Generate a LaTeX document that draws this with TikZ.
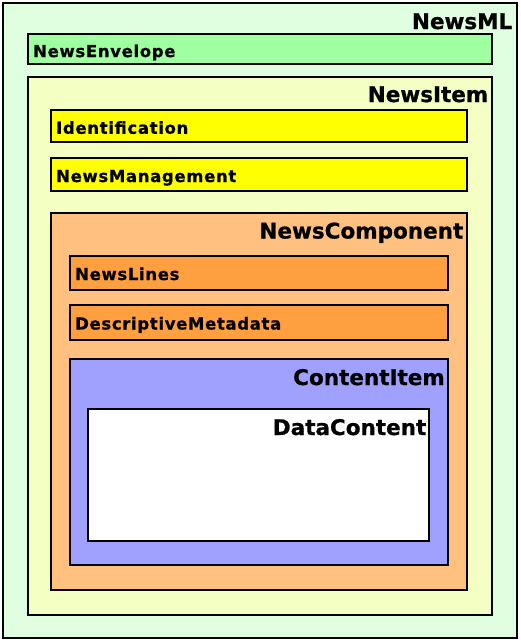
\documentclass[tikz,border=0pt]{standalone}
\usepackage{fontspec}
\setmainfont{DejaVu Sans}
\newfontfamily\titlefont{DejaVu Sans Bold}[FakeBold=0.8]
\newfontfamily\labelfont{DejaVu Sans Bold}[FakeBold=0.8, LetterSpace=4]
\definecolor{cML}{HTML}{E0FFE0}
\definecolor{cEnv}{HTML}{A0FFA0}
\definecolor{cItem}{HTML}{F3FFC3}
\definecolor{cId}{HTML}{FFFF00}
\definecolor{cComp}{HTML}{FFC080}
\definecolor{cLines}{HTML}{FFA040}
\definecolor{cCont}{HTML}{A0A0FF}
\tikzset{
  box/.style={draw=black, line width=2pt, inner sep=0pt, outer sep=0pt, anchor=north west, rectangle},
  title/.style={anchor=base east, inner sep=0pt, font=\titlefont\fontsize{21.5}{25}\selectfont},
  label/.style={anchor=base west, inner sep=0pt, font=\labelfont\fontsize{16.5}{20}\selectfont},
}
\newcommand{\bx}[6]{% name, color, x1, y1, x2, y2
  \node[box, fill=#2, minimum width=#5pt-#3pt, minimum height=#6pt-#4pt] (#1) at (#3,#4) {};}
\begin{document}
\begin{tikzpicture}[x=1pt,y=-1pt]
\useasboundingbox (0,0) rectangle (521,643);
\bx{ml}{cML}{3}{3}{517}{638}
\bx{env}{cEnv}{28}{34}{492}{63.5}
\bx{item}{cItem}{28}{77}{492}{615}
\bx{id}{cId}{51}{109.5}{467}{142}
\bx{mgmt}{cId}{51}{157.5}{467}{190.5}
\bx{comp}{cComp}{51}{212.5}{467}{590}
\bx{lines}{cLines}{70}{255.5}{448}{289.5}
\bx{meta}{cLines}{70}{304.5}{448}{339.5}
\bx{cont}{cCont}{70}{359}{448}{565}
\bx{data}{white}{88}{409}{429}{540.5}
\node[title] (tml) at ([xshift=-4.5pt,yshift=-26pt]ml.north east) {NewsML};
\node[title] (titem) at ([xshift=-3.5pt,yshift=-25pt]item.north east) {NewsItem};
\node[title] (tcomp) at ([xshift=-3.5pt,yshift=-26pt]comp.north east) {NewsComponent};
\node[title] (tcont) at ([xshift=-3pt,yshift=-26pt]cont.north east) {ContentItem};
\node[title] (tdata) at ([xshift=-2.5pt,yshift=-26pt]data.north east) {DataContent};
\node[label] (lenv) at ([xshift=5pt,yshift=-8.3pt]env.west) {NewsEnvelope};
\node[label] (lid) at ([xshift=5pt,yshift=-8pt]id.west) {Identification};
\node[label] (lmgmt) at ([xshift=5pt,yshift=-8pt]mgmt.west) {NewsManagement};
\node[label] (llines) at ([xshift=5pt,yshift=-7.5pt]lines.west) {NewsLines};
\node[label] (lmeta) at ([xshift=5pt,yshift=-7.5pt]meta.west) {DescriptiveMetadata};
\end{tikzpicture}
\end{document}
